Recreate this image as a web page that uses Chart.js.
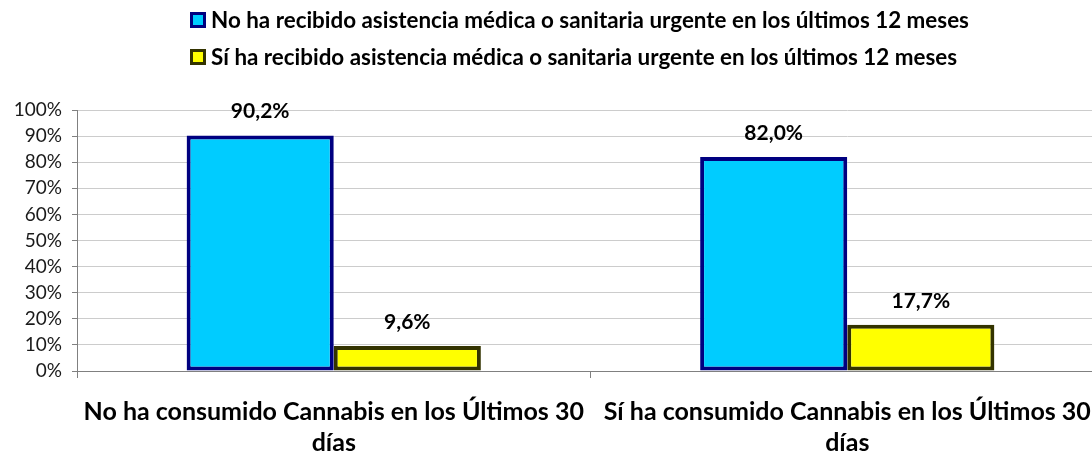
<!DOCTYPE html>
<html lang="es">
<head>
<meta charset="utf-8">
<script src="https://cdn.jsdelivr.net/npm/chart.js@4/dist/chart.umd.min.js"></script>
<style>
  html, body { margin: 0; padding: 0; background: #ffffff; overflow: hidden; }
  #wrap { position: relative; width: 1104px; height: 457px; }
</style>
</head>
<body>
<div id="wrap"><canvas id="chart"></canvas></div>
<script>
// Categories (wrapped onto two lines as in the axis labels)
const categories = [
  ['No ha consumido Cannabis en los Últimos 30', 'días'],
  ['Sí ha consumido Cannabis en los Últimos 30', 'días']
];

// Series names
const seriesNames = [
  'No ha recibido asistencia médica o sanitaria urgente en los últimos 12 meses',
  'Sí ha recibido asistencia médica o sanitaria urgente en los últimos 12 meses'
];

// Percent values per series
const noAsistencia = [90.2, 82.0];
const siAsistencia = [9.6, 17.7];

// Y axis ticks
const yTicks = [0, 10, 20, 30, 40, 50, 60, 70, 80, 90, 100];

const FONT = 'Lato, "Open Sans", sans-serif';

function fmtPct(v) {
  return v.toFixed(1).replace('.', ',') + '%';
}

// Value labels above each bar
const valueLabels = {
  id: 'valueLabels',
  afterDatasetsDraw(chart) {
    const ctx = chart.ctx;
    ctx.save();
    ctx.font = 'bold 21px ' + FONT;
    ctx.fillStyle = '#000000';
    ctx.textAlign = 'center';
    ctx.textBaseline = 'middle';
    chart.data.datasets.forEach((ds, i) => {
      const meta = chart.getDatasetMeta(i);
      meta.data.forEach((bar, j) => {
        ctx.fillText(fmtPct(ds.data[j]), bar.x, bar.y - 24);
      });
    });
    ctx.restore();
  }
};

// Legend: one series per row, rows left-aligned as a block
const blockLegend = {
  id: 'blockLegend',
  afterDraw(chart) {
    const ctx = chart.ctx;
    const box = 16, startX = 190;
    const rowsY = [20, 57];
    ctx.save();
    ctx.font = 'bold 22.4px ' + FONT;
    chart.data.datasets.forEach((ds, i) => {
      const y = rowsY[i];
      ctx.fillStyle = ds.backgroundColor;
      ctx.fillRect(startX, y - box / 2, box, box);
      ctx.lineWidth = 3;
      ctx.strokeStyle = ds.borderColor;
      ctx.strokeRect(startX + 1.5, y - box / 2 + 1.5, box - 3, box - 3);
      ctx.fillStyle = '#000000';
      ctx.textAlign = 'left';
      ctx.textBaseline = 'middle';
      ctx.fillText(ds.label, startX + box + 5, y + 1);
    });
    ctx.restore();
  }
};

function draw() {
  Chart.defaults.font.family = FONT;
  Chart.defaults.color = '#000000';

  new Chart(document.getElementById('chart'), {
    type: 'bar',
    data: {
      labels: categories,
      datasets: [
        {
          label: seriesNames[0],
          data: noAsistencia,
          backgroundColor: '#00CCFF',
          borderColor: '#000080',
          borderWidth: 4,
          borderSkipped: false
        },
        {
          label: seriesNames[1],
          data: siAsistencia,
          backgroundColor: '#FFFF00',
          borderColor: '#333300',
          borderWidth: 4,
          borderSkipped: false
        }
      ]
    },
    options: {
      responsive: true,
      maintainAspectRatio: false,
      animation: false,
      events: [],
      layout: { padding: { top: 110, right: 0, bottom: 0, left: 0 } },
      datasets: {
        bar: { categoryPercentage: 0.573, barPercentage: 1.0 }
      },
      plugins: {
        legend: { display: false },
        tooltip: { enabled: false },
        title: { display: false }
      },
      scales: {
        x: {
          offset: true,
          grid: {
            offset: true,
            drawOnChartArea: false,
            drawTicks: true,
            tickLength: 7,
            tickColor: '#808080'
          },
          border: { color: '#808080', width: 1 },
          ticks: {
            padding: 18,
            autoSkip: false,
            maxRotation: 0,
            color: '#000000',
            font: { size: 25, weight: 'bold', lineHeight: 1.24 }
          },
          afterFit(scale) {
            scale.height = 86;
            scale.paddingLeft = 0;
            scale.paddingRight = 0;
          }
        },
        y: {
          min: 0,
          max: 100,
          afterBuildTicks(scale) {
            scale.ticks = yTicks.map(v => ({ value: v }));
          },
          grid: {
            color: '#cccccc',
            lineWidth: 1,
            drawTicks: true,
            tickLength: 5,
            tickColor: '#808080'
          },
          border: { color: '#808080', width: 1 },
          ticks: {
            padding: 10,
            color: '#1a1a1a',
            font: { size: 19 },
            callback: v => v + '%'
          },
          afterFit(scale) {
            scale.width = 77;
            scale.paddingTop = 0;
            scale.paddingBottom = 0;
          }
        }
      }
    },
    plugins: [valueLabels, blockLegend]
  });
}

Promise.all([
  document.fonts.load('bold 22px Lato'),
  document.fonts.load('19px Lato')
]).then(draw, draw);
</script>
</body>
</html>
